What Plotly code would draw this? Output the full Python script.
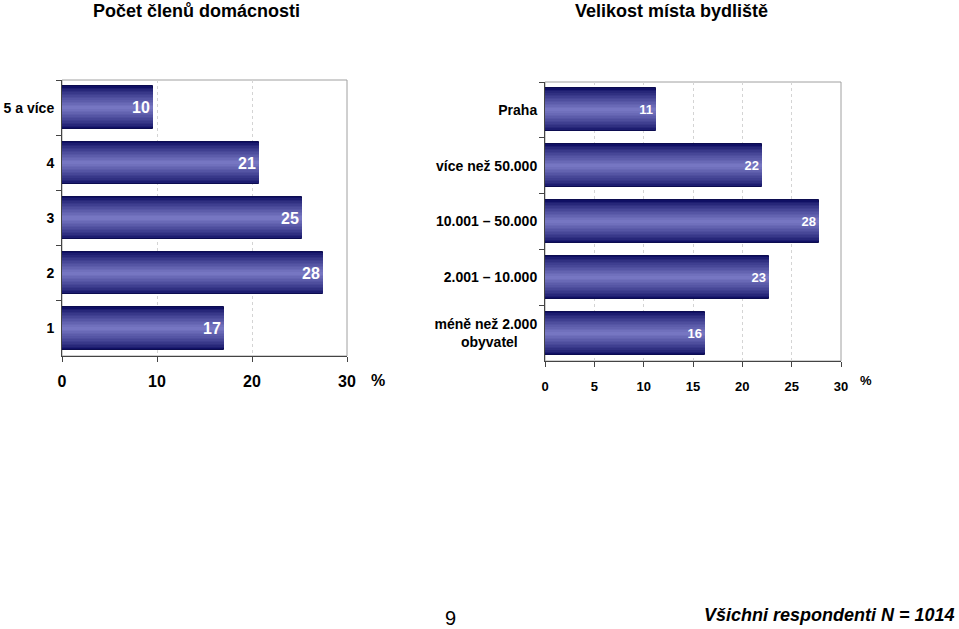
import plotly.graph_objects as go

# ---------------- data ----------------
hh_categories = ["1", "2", "3", "4", "5 a více"]
hh_values = [17.0, 27.5, 25.3, 20.7, 9.6]
hh_labels = ["17", "28", "25", "21", "10"]

town_categories = ["méně než 2.000<br>obyvatel\u00a0\u00a0\u00a0\u00a0\u00a0", "2.001 – 10.000",
                   "10.001 – 50.000", "více než 50.000", "Praha"]
town_values = [16.2, 22.7, 27.8, 22.0, 11.3]
town_labels = ["16", "23", "28", "22", "11"]

left_ticks = [0, 10, 20, 30]
right_ticks = [0, 5, 10, 15, 20, 25, 30]

title_left = "Počet členů domácnosti"
title_right = "Velikost místa bydliště"
footer_page = "9"
footer_note = "Všichni respondenti N = 1014"

# ---------------- figure ----------------
W, H = 959, 629
fig = go.Figure()

DARK = (16, 16, 100)
LIGHT = (118, 118, 194)
N = 14
BAR_W = 0.77


def lerp(a, b, t):
    return tuple(int(round(a[i] + (b[i] - a[i]) * t)) for i in range(3))


def add_bars(cats, vals, labels, xa, ya, fsize):
    for i in range(N):
        t = i / (N - 1)
        w = BAR_W * (1 - i / N)
        c = lerp(DARK, LIGHT, t ** 0.8)
        fig.add_trace(go.Bar(
            y=cats, x=vals, orientation="h", width=w,
            marker=dict(color="rgb(%d,%d,%d)" % c,
                        line=dict(width=1 if i == 0 else 0, color="#0c0c50")),
            xaxis=xa, yaxis=ya, hoverinfo="skip", showlegend=False))
    fig.add_trace(go.Bar(
        y=cats, x=vals, orientation="h", width=BAR_W,
        marker=dict(color="rgba(0,0,0,0)", line=dict(width=0)),
        text=labels, textposition="inside", insidetextanchor="end",
        constraintext="none",
        textfont=dict(color="white", size=fsize, family="Liberation Sans", weight="bold"),
        xaxis=xa, yaxis=ya, hoverinfo="skip", showlegend=False))


add_bars(hh_categories, hh_values, hh_labels, "x", "y", 16)
add_bars(town_categories, town_values, town_labels, "x2", "y2", 13)

L_x0, L_x1, L_yt, L_yb = 62, 347, 80, 356
R_x0, R_x1, R_yt, R_yb = 545, 841, 82, 361

axis_font = dict(family="Liberation Sans", color="black", weight="bold")

fig.update_layout(
    width=W, height=H, margin=dict(l=0, r=0, t=0, b=0, autoexpand=False),
    paper_bgcolor="white", plot_bgcolor="white",
    barmode="overlay", bargap=0,
    xaxis=dict(domain=[L_x0 / W, L_x1 / W], anchor="y", range=[0, 30], automargin=False,
               tickvals=left_ticks, ticks="outside", ticklen=5, tickcolor="#444",
               showline=True, linecolor="#444", linewidth=1,
               showgrid=True, gridcolor="#d4d4d4", griddash="dot", gridwidth=1,
               zeroline=False, tickfont=dict(size=16, **axis_font), ticklabelstandoff=6),
    yaxis=dict(domain=[1 - L_yb / H, 1 - L_yt / H], anchor="x", type="category", automargin=False,
               categoryorder="array", categoryarray=hh_categories,
               tickson="boundaries", ticks="outside", ticklen=5, tickcolor="#444",
               showline=True, linecolor="#444", linewidth=1, showgrid=False,
               tickfont=dict(size=14, **axis_font), ticklabelstandoff=4),
    xaxis2=dict(domain=[R_x0 / W, R_x1 / W], anchor="y2", range=[0, 30], automargin=False,
                tickvals=right_ticks, ticks="outside", ticklen=5, tickcolor="#444",
                showline=True, linecolor="#444", linewidth=1,
                showgrid=True, gridcolor="#d4d4d4", griddash="dot", gridwidth=1,
                zeroline=False, tickfont=dict(size=13, **axis_font), ticklabelstandoff=8),
    yaxis2=dict(domain=[1 - R_yb / H, 1 - R_yt / H], anchor="x2", type="category", automargin=False,
                categoryorder="array", categoryarray=town_categories,
                tickson="boundaries", ticks="outside", ticklen=5, tickcolor="#444",
                showline=True, linecolor="#444", linewidth=1, showgrid=False,
                tickfont=dict(size=14, **axis_font), ticklabelstandoff=4),
)

# gray frame (top and right)
for xr, yr in (("x domain", "y domain"), ("x2 domain", "y2 domain")):
    fig.add_shape(type="rect", xref=xr, yref=yr, x0=0, x1=1, y0=0, y1=1,
                  line=dict(color="#a0a0a0", width=1), layer="below")

title_font = dict(size=18, family="Liberation Sans", color="black", weight="bold")


def note(text, px, py, font, xanchor="center"):
    return dict(text=text, x=px / W, y=1 - py / H, xref="paper", yref="paper",
                xanchor=xanchor, yanchor="middle", showarrow=False, font=font)


ann = [
    note(title_left, 196, 11, title_font),
    note(title_right, 671, 11, title_font),
    note("%", 378, 380, dict(size=16, **axis_font)),
    note("%", 866, 381, dict(size=13, **axis_font)),
    note(footer_page, 450, 618, dict(size=20, family="Liberation Sans", color="black")),
    note("<i>" + footer_note + "</i>", 957, 615,
         dict(size=18, family="Liberation Sans", color="black", weight="bold"), xanchor="right"),
]
fig.update_layout(annotations=ann)

fig.write_html("out.html", config={"displayModeBar": False},
               post_script="document.body.style.margin='0';")
